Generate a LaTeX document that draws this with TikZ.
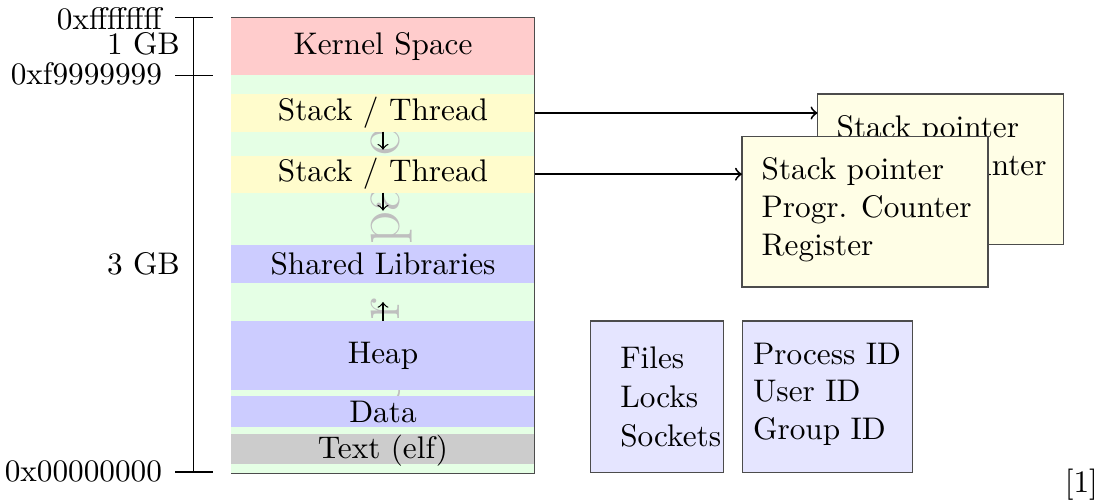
\documentclass[tikz,border=0pt]{standalone}
\begin{document}
\begin{tikzpicture}[x=0.32pt,y=-0.32pt,
  font=\fontsize{10}{12}\selectfont,
  layer/.style={inner sep=0pt, outer sep=0pt, minimum width=97.02pt},
  lbl/.style={inner sep=0pt, anchor=base},
  axl/.style={inner sep=0pt, anchor=base east},
  txt/.style={inner sep=0pt, anchor=base west},
  info/.style={draw=black!70, fill=yellow!10, inner sep=0pt, outer sep=0pt, minimum width=78.7pt, minimum height=48.2pt},
  res/.style={draw=black!70, fill=blue!10, inner sep=0pt, outer sep=0pt, minimum height=48.4pt},
  growarrow/.style={->},
  link/.style={->, semithick}]
\useasboundingbox (0,0) rectangle (1108,501);

% memory column background
\node[layer, fill=green!10, minimum height=145.92pt] (col) at (383,245.3) {};
\node[rotate=90, font=\huge, text=gray!50, inner sep=0pt] (us) at (383,272) {User Space};

% layers
\node[layer, fill=red!20, minimum height=18.46pt] (kern) at (383,46.15) {};
\node[layer, fill=yellow!20, minimum height=11.97pt] (st1) at (383,113) {};
\node[layer, fill=yellow!20, minimum height=11.84pt] (st2) at (383,174.2) {};
\node[layer, fill=blue!20, minimum height=12.16pt] (shl) at (383,263.7) {};
\node[layer, fill=blue!20, minimum height=21.98pt] (heap) at (383,355.35) {};
\node[layer, fill=blue!20, minimum height=9.82pt] (data) at (383,411.35) {};
\node[layer, fill=black!20, minimum height=9.70pt] (text) at (383,449.15) {};

\draw[black!70] (col.north west) -- (col.north east) -- (col.south east) -- (col.south west);

\node[lbl] (lkern) at (383,55) {Kernel Space};
\node[lbl] (lst1) at (383,120.7) {Stack / Thread};
\node[lbl] (lst2) at (383,181.7) {Stack / Thread};
\node[lbl] (lshl) at (383,275) {Shared Libraries};
\node[lbl] (lheap) at (383,363.3) {Heap};
\node[lbl] (ldata) at (383,422.7) {Data};
\node[lbl] (ltext) at (383,458.3) {Text (elf)};

% growth arrows
\draw[growarrow] (st1.south) -- ++(0,18);
\draw[growarrow] (st2.south) -- ++(0,18);
\draw[growarrow] (heap.north) -- ++(0,-19);

% address axis
\coordinate (atop) at (193.5,17.3);
\coordinate (amid) at (193.5,75.3);
\coordinate (abot) at (193.5,472);
\draw (atop) -- (abot);
\draw (175,17.3) -- (212.5,17.3);
\draw (175,75.3) -- (212.5,75.3);
\draw (175,472) -- (212.5,472);
\node[axl] (aff) at (162.5,29.5) {0xffffffff};
\node[axl] (a1g) at (180.4,55) {1 GB};
\node[axl] (af9) at (162.5,85) {0xf9999999};
\node[axl] (a3g) at (180.4,275) {3 GB};
\node[axl] (a00) at (162.5,482) {0x00000000};

% thread control blocks
\node[info] (bk) at (940.45,169.3) {};
\node[txt] (bk1) at (836,138) {Stack pointer};
\node[txt] (bk2) at (836,176) {Progr. Counter};
\node[txt] (bk3) at (836,214) {Register};
\node[info] (fr) at (864.9,211.65) {};
\node[txt] (fr1) at (761,180) {Stack pointer};
\node[txt] (fr2) at (761,218) {Progr. Counter};
\node[txt] (fr3) at (761,255.5) {Register};

\draw[link] (st1.east) -- (st1.east -| bk.west);
\draw[link] (st2.east) -- (st2.east -| fr.west);

% process resources
\node[res, minimum width=42.56pt] (fl) at (657.3,396.65) {};
\node[txt] (fl1) at (619.7,368.3) {Files};
\node[txt] (fl2) at (619.7,408) {Locks};
\node[txt] (fl3) at (619.7,446.7) {Sockets};
\node[res, minimum width=54.53pt] (pid) at (827.5,396.65) {};
\node[txt] (pid1) at (752.4,365) {Process ID};
\node[txt] (pid2) at (752.4,402) {User ID};
\node[txt] (pid3) at (752.4,440) {Group ID};

\node[inner sep=0pt, anchor=base east] (cite) at (1098.5,493) {[1]};
\end{tikzpicture}
\end{document}
